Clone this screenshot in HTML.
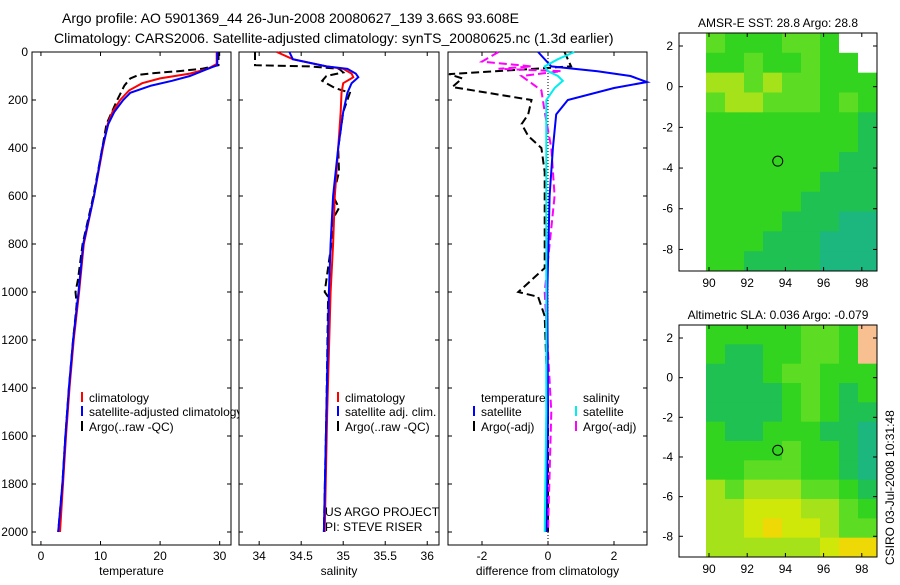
<!DOCTYPE html>
<html><head><meta charset="utf-8"><style>
body{margin:0;background:#fff;width:900px;height:580px;overflow:hidden}
svg{font-family:"Liberation Sans",sans-serif;font-size:12px}
</style></head><body>
<svg id="fig" width="900" height="580" viewBox="0 0 900 580">
<text x="62" y="23" font-size="14">Argo profile: AO 5901369_44 26-Jun-2008 20080627_139 3.66S 93.608E</text>
<text x="54" y="43" font-size="14">Climatology: CARS2006. Satellite-adjusted climatology: synTS_20080625.nc (1.3d earlier)</text>
<g id="plots"></g>
<text transform="translate(894,565) rotate(-90)" font-size="12">CSIRO 03-Jul-2008 10:31:48</text>
</svg>
<script>
// ---- data ----
const depthTicks=[0,200,400,600,800,1000,1200,1400,1600,1800,2000];
const tempTicks=[0,10,20,30];
const salTicks=[34,34.5,35,35.5,36];
const diffTicks=[-2,0,2];
const tempClimD=[0,50,70,90,110,130,160,200,250,300,400,600,800,1000,1200,1400,1600,1800,2000];
const tempClimV=[29.5,29.5,28,25,20,17,14.8,13.3,12,11.2,10.4,8.9,7.2,6.4,5.5,4.8,4.2,3.7,3.2];
const tempSatD=[0,55,70,100,120,140,170,200,250,300,400,600,800,1000,1200,1400,1600,1800,2000];
const tempSatV=[29.6,29.6,28,25,22,18.5,15,13.8,12.3,11.3,10.3,8.9,7.1,6.3,5.4,4.7,4.1,3.6,2.9];
const tempArgoD=[0,55,70,80,88,95,110,140,200,300,400,600,800,950,1000,1050,1200,1400,1600,1800,2000];
const tempArgoV=[29.8,29.8,27,23,19,16.5,15,14,12.8,11,10.3,8.8,7.0,6.2,5.8,6.0,5.4,4.7,4.1,3.6,2.9];
const salClimD=[0,30,60,70,90,105,130,170,250,400,600,800,1000,1500,2000];
const salClimV=[34.21,34.4,34.8,35.0,35.1,35.12,35.0,34.98,34.97,34.94,34.9,34.88,34.85,34.81,34.78];
const salSatD=[0,30,60,70,90,105,130,170,250,400,600,800,1000,1500,2000];
const salSatV=[34.36,34.4,34.8,35.05,35.15,35.18,35.1,35.05,35.0,34.94,34.88,34.85,34.83,34.8,34.77];
const salArgoD=[0,55,60,70,85,100,120,150,170,250,400,500,600,650,700,800,1000,1020,1500,2000];
const salArgoV=[33.95,33.95,34.6,34.95,35.0,34.8,34.75,34.9,35.08,35.0,34.94,34.95,34.88,34.95,34.87,34.86,34.78,34.82,34.8,34.77];
const dTsD=[0,60,80,100,125,150,200,260,400,600,1000,1500,2000];
const dTsV=[-0.3,0.1,1.5,2.5,3.0,2.0,0.6,0.25,0.15,0.05,-0.02,0,-0.05];
const dTaD=[0,60,75,92,110,146,200,260,300,350,400,500,700,900,1000,1020,1100,1500,2000];
const dTaV=[0.5,0.7,-1,-3,-2.6,-2.9,-0.5,-0.6,-0.8,-0.6,-0.2,-0.1,-0.1,-0.1,-0.9,-0.3,-0.1,0,0];
const dSsD=[0,30,60,80,100,120,150,200,400,800,1500,2000];
const dSsV=[0.8,0.3,-0.1,0,0.3,0.45,0.2,-0.05,-0.05,-0.05,-0.05,-0.1];
const dSaD=[0,40,60,70,80,100,130,160,250,400,600,1000,1500,2000];
const dSaV=[-1.5,-2,-0.5,-1.5,0.4,-0.8,-0.5,-0.2,-0.1,0.1,0.2,-0.1,0.1,0];
// map fields (color codes per cell, top row = north)
const sstRows=["baaabbaWW","aabaabaaW","ccbcbbaaa","bccbbbaba","aaaaaaaad","aaaaaaaad","aaaaaaadd","aaaaaaddd","aaaaadddd","aaaadddee","aaadddeee","aaddddeee"];
const slaRows=["aaaaabbaL","addaabbaL","dddabbaaa","ddddabada","ddddabadd","addaaadde","aaaabaade","aabbbaade","cbcccbbad","ccfffccba","ccfgffcbb","ccccccfgg"];
const cellColor={a:"#33d41f",b:"#5cdc22",c:"#a6e21a",d:"#1fc152",e:"#1bb77e",f:"#cfe80a",g:"#eed806",W:"#ffffff",L:"#f8c090"};

const NS="http://www.w3.org/2000/svg";
const root=document.getElementById('plots');
function mk(tag,attrs,parent){const e=document.createElementNS(NS,tag);for(const k in attrs)e.setAttribute(k,attrs[k]);(parent||root).appendChild(e);return e;}
function txt(x,y,s,anchor,parent){const t=mk('text',{x:x,y:y,'text-anchor':anchor||'start'},parent);t.textContent=s;return t;}
const yTop=52,yPx=0.24;
function yD(d){return yTop+d*yPx;}

function panel(name,x0,x1,v0,v1,ticks,label,showY){
  const g=mk('g',{});
  
  
  const xs=v=>x0+(v-v0)/(v1-v0)*(x1-x0);
  const bg=mk('rect',{x:x0,y:yTop,width:x1-x0,height:545-yTop,fill:'#fff',stroke:'#000','stroke-width':1},g);
  
  
  ticks.forEach(t=>{const x=xs(t);
    mk('line',{x1:x,x2:x,y1:545,y2:541,stroke:'#000'},g);mk('line',{x1:x,x2:x,y1:yTop,y2:yTop+4,stroke:'#000'},g);
    const l=txt(x,560,String(t),'middle',g);
    
    });
  depthTicks.forEach(d=>{const y=yD(d);
    mk('line',{x1:x0,x2:x0+4,y1:y,y2:y,stroke:'#000'},g);mk('line',{x1:x1,x2:x1-4,y1:y,y2:y,stroke:'#000'},g);
    if(showY){const l=txt(28,y+4,String(d),'end',g);
      
      }});
  const at=txt((x0+x1)/2,575,label,'middle',g);
  
  
  return {g,xs};
}
function series(p,D,V,color,dash,w,name){
  const pts=D.map((d,i)=>p.xs(V[i]).toFixed(1)+','+yD(d).toFixed(1)).join(' ');
  const l=mk('polyline',{points:pts,fill:'none',stroke:color,'stroke-width':w||2,'stroke-dasharray':dash||'none'},p.g);
  
  
}
function legend(p,x,y,color,label,name){
  mk('line',{x1:x,x2:x,y1:y-6,y2:y+4,stroke:color,'stroke-width':2},p.g);
  const t=txt(x+7,y+4,label,'start',p.g);
  
  
}
// panel 1
const p1=panel('temperature-panel',32,231,-1.5,31.9,tempTicks,'temperature',true);
series(p1,tempArgoD,tempArgoV,'#000','8,4',2,'temp-argo-line');
series(p1,tempClimD,tempClimV,'#f00','none',2,'temp-climatology-line');
series(p1,tempSatD,tempSatV,'#00f','none',2,'temp-satellite-line');
legend(p1,82,398,'#f00','climatology','legend-climatology');
legend(p1,82,412,'#00f','satellite-adjusted climatology','legend-satellite');
legend(p1,82,427,'#000','Argo(..raw -QC)','legend-argo');
// panel 2
const p2=panel('salinity-panel',239,439,33.76,36.14,salTicks,'salinity',false);
series(p2,salArgoD,salArgoV,'#000','8,4',2,'sal-argo-line');
series(p2,salClimD,salClimV,'#f00','none',2,'sal-climatology-line');
series(p2,salSatD,salSatV,'#00f','none',2,'sal-satellite-line');
legend(p2,338,398,'#f00','climatology','legend-sal-climatology');
legend(p2,338,412,'#00f','satellite adj. clim.','legend-sal-satellite');
legend(p2,338,427,'#000','Argo(..raw -QC)','legend-sal-argo');
let t=txt(325,516,'US ARGO PROJECT','start',p2.g);


t=txt(325,531,'PI: STEVE RISER','start',p2.g);


// panel 3
const p3=panel('difference-panel',448,647,-3.03,3.0,diffTicks,'difference from climatology',false);
mk('line',{x1:p3.xs(0),x2:p3.xs(0),y1:yTop,y2:545,stroke:'#000','stroke-dasharray':'1,2'},p3.g);
series(p3,dTaD,dTaV,'#000','8,4',2,'diff-temp-argo-line');
series(p3,dSaD,dSaV,'#f0f','8,4',2,'diff-sal-argo-line');
series(p3,dTsD,dTsV,'#00f','none',2,'diff-temp-satellite-line');
series(p3,dSsD,dSsV,'#0ee','none',2,'diff-sal-satellite-line');
t=txt(481,402,'temperature','start',p3.g);
t=txt(583,402,'salinity','start',p3.g);
legend(p3,474,412,'#00f','satellite','legend-temp-satellite');
legend(p3,576,412,'#0ee','satellite','legend-sal-satellite-diff');
legend(p3,474,427,'#000','Argo(-adj)','legend-temp-argo');
legend(p3,576,427,'#f0f','Argo(-adj)','legend-sal-argo-diff');

// maps
function map(name,top,bottom,rows,title){
  const g=mk('g',{});
  
  
  const x0=679,x1=877,dx0=706;
  const lonX=l=>709+(l-90)*19.1;
  const y2=top+13,latPx=(bottom-top)/12;
  const latY=l=>y2+(2-l)*(latPx*12/11.7);
  const cw=(x1-dx0)/rows[0].length,ch=(bottom-top)/rows.length;
  rows.forEach((r,i)=>{[...r].forEach((c,j)=>{
    mk('rect',{x:dx0+j*cw,y:top+i*ch,width:cw+0.5,height:ch+0.5,fill:cellColor[c]},g);});});
  mk('rect',{x:x0,y:top,width:x1-x0,height:bottom-top,fill:'none',stroke:'#000'},g);
  [90,92,94,96,98].forEach(l=>{const x=lonX(l);
    mk('line',{x1:x,x2:x,y1:bottom,y2:bottom-4,stroke:'#000'},g);mk('line',{x1:x,x2:x,y1:top,y2:top+4,stroke:'#000'},g);
    const s=txt(x,bottom+16,String(l),'middle',g);});
  [2,0,-2,-4,-6,-8].forEach(l=>{const y=latY(l);
    mk('line',{x1:x0,x2:x0+4,y1:y,y2:y,stroke:'#000'},g);mk('line',{x1:x1,x2:x1-4,y1:y,y2:y,stroke:'#000'},g);
    const s=txt(673,y+4,String(l),'end',g);});
  const c=mk('circle',{cx:lonX(93.6),cy:latY(-3.66),r:5,fill:'none',stroke:'#000'},g);
  
  
  const tt=txt(778,top-6,title,'middle',g);
  
  
}
map('sst-map',33,271,sstRows,'AMSR-E SST: 28.8  Argo: 28.8');
map('sla-map',325,557,slaRows,'Altimetric SLA: 0.036  Argo: -0.079');
</script>
</body></html>
